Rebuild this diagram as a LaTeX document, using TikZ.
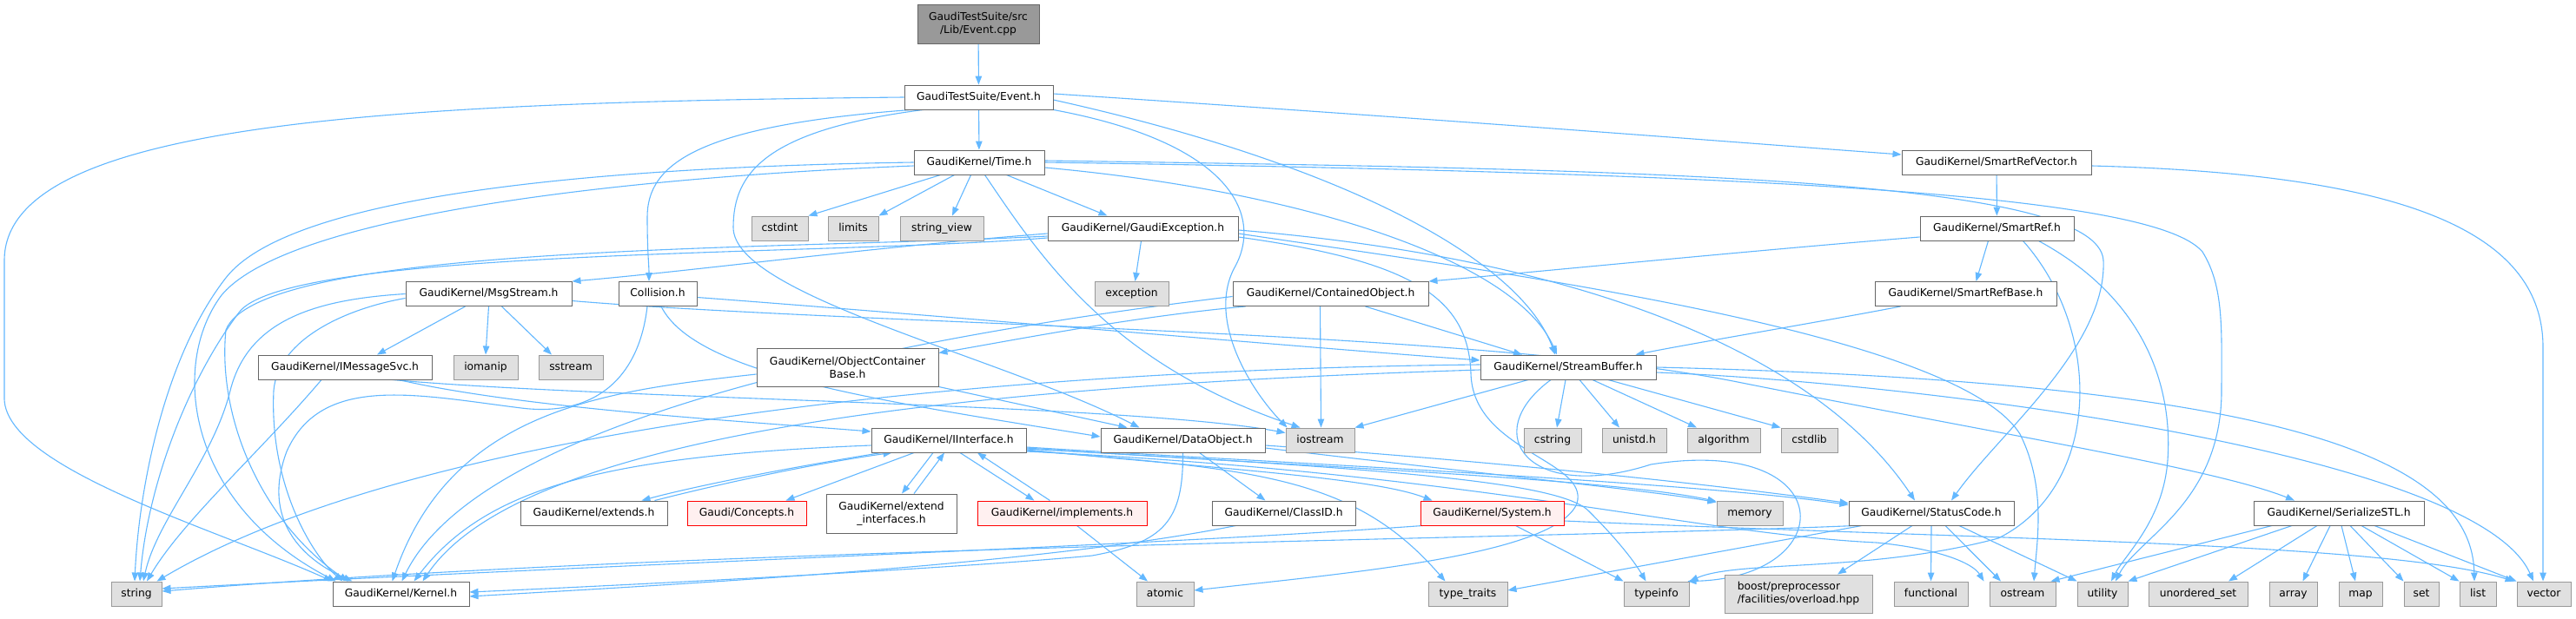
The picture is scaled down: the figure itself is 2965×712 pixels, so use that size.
\documentclass[tikz,border=0pt]{standalone}
\usepackage{fontspec}
\setmainfont{DejaVu Sans}
\usetikzlibrary{arrows.meta}
\definecolor{edgecol}{HTML}{63B8FF}
\definecolor{boxdraw}{HTML}{666666}
\definecolor{extfill}{HTML}{E0E0E0}
\definecolor{extdraw}{HTML}{999999}
\definecolor{rootfill}{HTML}{999999}
\definecolor{redfill}{HTML}{FFF0F0}
\pgfdeclarelayer{bg}
\pgfsetlayers{bg,main}
\begin{document}
\begin{tikzpicture}[x=1pt,y=-1pt,
  font=\fontsize{12.3}{15}\selectfont,
  nd/.style={draw=boxdraw, fill=white, line width=0.95pt, inner sep=0pt, minimum height=28pt, text height=9.3pt, text depth=2.6pt},
  two/.style={draw=boxdraw, fill=white, line width=0.95pt, inner sep=0pt, minimum height=45pt, align=center},
  ext/.style={nd, fill=extfill, draw=extdraw},
  rednd/.style={nd, fill=redfill, draw=red},
  edge/.style={draw=edgecol, line width=1.1pt, -{Triangle[length=10pt,width=7.5pt]}}
]
\begin{pgfonlayer}{bg}
\fill[white] (0,0) rectangle (2965,712);
\end{pgfonlayer}
\useasboundingbox (0,0) rectangle (2965,712);

% ---------- nodes ----------
\node[two, fill=rootfill, minimum width=140pt] (cpp) at (1126,27.5) {GaudiTestSuite/src\\/Lib/Event.cpp};
\node[nd, minimum width=171pt] (evh) at (1126.5,112) {GaudiTestSuite/Event.h};
\node[nd, minimum width=150pt] (time) at (1127,187) {GaudiKernel/Time.h};
\node[nd, minimum width=218pt] (srv) at (2298,187) {GaudiKernel/SmartRefVector.h};
\node[ext, minimum width=65pt] (cstdint) at (897.5,263) {cstdint};
\node[ext, minimum width=58pt] (limits) at (982,263) {limits};
\node[ext, minimum width=96pt] (strview) at (1084,263) {string\_view};
\node[nd, minimum width=219pt] (gexc) at (1315.5,263) {GaudiKernel/GaudiException.h};
\node[nd, minimum width=177pt] (sref) at (2298.5,263) {GaudiKernel/SmartRef.h};
\node[nd, minimum width=191pt] (msg) at (562.5,338.5) {GaudiKernel/MsgStream.h};
\node[nd, minimum width=90pt] (coll) at (757,338.5) {Collision.h};
\node[ext, minimum width=85pt] (exc) at (1302.5,338.5) {exception};
\node[nd, minimum width=225pt] (cobj) at (1531.5,338.5) {GaudiKernel/ContainedObject.h};
\node[nd, minimum width=209pt] (srb) at (2262.5,338.5) {GaudiKernel/SmartRefBase.h};
\node[nd, minimum width=200pt] (imsg) at (397,423) {GaudiKernel/IMessageSvc.h};
\node[ext, minimum width=74pt] (iomanip) at (559,423) {iomanip};
\node[ext, minimum width=74pt] (sstream) at (657,423) {sstream};
\node[two, minimum width=209pt, minimum height=44pt] (ocb) at (975.5,423) {GaudiKernel/ObjectContainer\\Base.h};
\node[nd, minimum width=202pt] (sbuf) at (1805,423) {GaudiKernel/StreamBuffer.h};
\node[nd, minimum width=178pt] (iint) at (1092,507) {GaudiKernel/IInterface.h};
\node[nd, minimum width=189pt] (dobj) at (1361.5,507) {GaudiKernel/DataObject.h};
\node[ext, minimum width=79pt] (iostream) at (1519.5,507) {iostream};
\node[ext, minimum width=66pt] (cstring) at (1787,507) {cstring};
\node[ext, minimum width=74pt] (unistd) at (1881,507) {unistd.h};
\node[ext, minimum width=84pt] (algorithm) at (1984,507) {algorithm};
\node[ext, minimum width=65pt] (cstdlib) at (2082.5,507) {cstdlib};
\node[nd, minimum width=169pt] (extends) at (683.5,591) {GaudiKernel/extends.h};
\node[rednd, minimum width=137pt] (concepts) at (859.5,591) {Gaudi/Concepts.h};
\node[two, minimum width=150pt] (extint) at (1026,591.5) {GaudiKernel/extend\\\_interfaces.h};
\node[rednd, minimum width=195pt] (impl) at (1222.5,591) {GaudiKernel/implements.h};
\node[nd, minimum width=165pt] (classid) at (1477.5,591) {GaudiKernel/ClassID.h};
\node[rednd, minimum width=165pt] (system) at (1717.5,591) {GaudiKernel/System.h};
\node[ext, minimum width=76pt] (memory) at (2014,591) {memory};
\node[nd, minimum width=190pt] (statuscode) at (2223,591) {GaudiKernel/StatusCode.h};
\node[nd, minimum width=196pt] (sstl) at (2692,591) {GaudiKernel/SerializeSTL.h};
\node[ext, minimum width=58pt] (string) at (157,684) {string};
\node[nd, minimum width=157pt] (kernel) at (461.5,684) {GaudiKernel/Kernel.h};
\node[ext, minimum width=66pt] (atomic) at (1341,684) {atomic};
\node[ext, minimum width=91pt] (ttraits) at (1689.5,684) {type\_traits};
\node[ext, minimum width=75pt] (typeinfo) at (1906.5,684) {typeinfo};
\node[two, fill=extfill, draw=extdraw, minimum width=170pt, minimum height=44pt, align=left] (boost) at (2070,684) {boost/preprocessor\\/facilities/overload.hpp};
\node[ext, minimum width=85pt] (functional) at (2222.5,684) {functional};
\node[ext, minimum width=76pt] (ostream) at (2328,684) {ostream};
\node[ext, minimum width=58pt] (utility) at (2420,684) {utility};
\node[ext, minimum width=114pt] (uset) at (2530,684) {unordered\_set};
\node[ext, minimum width=55pt] (array) at (2639.5,684) {array};
\node[ext, minimum width=50pt] (map) at (2717,684) {map};
\node[ext, minimum width=40pt] (set) at (2787,684) {set};
\node[ext, minimum width=42pt] (list) at (2852,684) {list};
\node[ext, minimum width=62pt] (vector) at (2928,684) {vector};

% ---------- edges ----------
\begin{pgfonlayer}{bg}
\draw[edge] (cpp) -- (evh);
% Event.h
\draw[edge] (evh) -- (time);
\draw[edge] ([yshift=4pt]evh.east) .. controls (1700,140) and (2050,168) .. ([yshift=9pt]srv.west);
\draw[edge] (evh.west) .. controls (450,118) and (5,140) .. (5,300) -- (5,460) .. controls (8,540) and (250,610) .. (kernel.north west);
\draw[edge] ([xshift=8pt]evh.south west) .. controls (800,145) and (745,190) .. (745,250) .. controls (745,290) and (747,305) .. ([xshift=-10pt]coll.north);
\draw[edge] ([xshift=22pt]evh.south west) .. controls (880,150) and (844,200) .. (844,262) .. controls (844,340) and (1150,410) .. ([xshift=-50pt]dobj.north);
\draw[edge] (evh.south east) .. controls (1420,165) and (1455,250) .. (1420,310) .. controls (1390,370) and (1440,450) .. ([xshift=2pt]iostream.north west);
\draw[edge] ([yshift=-3pt]evh.east) .. controls (1550,190) and (1750,300) .. ([xshift=-15pt]sbuf.north);
% Time.h
\draw[edge] (time.west) .. controls (650,193) and (330,230) .. (260,320) .. controls (190,410) and (160,560) .. ([xshift=-2pt]string.north);
\draw[edge] ([yshift=-4pt]time.west) .. controls (700,205) and (330,250) .. (255,340) .. controls (195,420) and (215,580) .. ([xshift=4pt]kernel.north west);
\draw[edge] ([xshift=31pt]time.south west) -- (cstdint.north east);
\draw[edge] ([xshift=47pt]time.south west) -- (limits.north east);
\draw[edge] ([xshift=66pt]time.south west) -- ([xshift=12pt]strview.north);
\draw[edge] ([xshift=107pt]time.south west) -- ([xshift=-41pt]gexc.north);
\draw[edge] ([xshift=82pt]time.south west) .. controls (1200,300) and (1280,420) .. ([xshift=17pt]iostream.north west);
\draw[edge] ([yshift=-6pt]time.east) .. controls (1500,220) and (1745,300) .. ([xshift=-13pt]sbuf.north);
\draw[edge] ([yshift=2pt]time.east) .. controls (1900,195) and (2415,205) .. (2421,300) .. controls (2425,400) and (2300,500) .. ([xshift=23pt]statuscode.north);
\draw[edge] (time.east) .. controls (2050,200) and (2480,225) .. (2535,290) .. controls (2560,330) and (2557,380) .. (2557,450) .. controls (2557,580) and (2460,620) .. ([xshift=15pt]utility.north);
% GaudiException.h
\draw[edge] ([yshift=-11pt]gexc.west) .. controls (950,295) and (330,285) .. (275,360) .. controls (215,440) and (170,560) .. ([xshift=4pt]string.north);
\draw[edge] ([yshift=-9pt]gexc.west) .. controls (900,288) and (300,280) .. (260,380) .. controls (250,480) and (300,600) .. ([xshift=18pt]kernel.north west);
\draw[edge] ([yshift=-6pt]gexc.west) .. controls (1000,285) and (800,312) .. (msg.north east);
\draw[edge] ([xshift=-2pt]gexc.south) -- ([xshift=4pt]exc.north);
\draw[edge] ([yshift=-2pt]gexc.east) .. controls (1850,300) and (2100,420) .. ([xshift=-19pt]statuscode.north);
\draw[edge] ([yshift=-6pt]gexc.east) .. controls (1700,310) and (2250,380) .. (2325,500) .. controls (2355,560) and (2345,620) .. ([xshift=13pt]ostream.north);
\draw[edge] ([yshift=-10pt]gexc.east) .. controls (1620,300) and (1690,340) .. (1693,430) .. controls (1695,520) and (1830,530) .. (1815,580) .. controls (1790,640) and (1550,660) .. ([yshift=4pt]atomic.east);
% MsgStream.h
\draw[edge] ([xshift=-27pt]msg.south) -- ([xshift=37pt]imsg.north);
\draw[edge] (msg.south) -- (iomanip.north);
\draw[edge] ([xshift=15pt]msg.south) -- ([xshift=-22pt]sstream.north);
\draw[edge] (msg.west) .. controls (360,345) and (285,370) .. (265,450) .. controls (245,530) and (180,600) .. ([xshift=8pt]string.north);
\draw[edge] ([yshift=-5pt]msg.west) .. controls (400,355) and (320,390) .. (315,450) .. controls (310,560) and (360,640) .. ([xshift=12pt]kernel.north west);
\draw[edge] ([yshift=-8pt]msg.east) .. controls (1000,375) and (1700,380) .. (2000,440) .. controls (2300,500) and (2550,540) .. ([xshift=-51pt]sstl.north);
% Collision.h
\draw[edge] ([yshift=-4pt]coll.east) .. controls (1100,365) and (1500,400) .. ([yshift=8pt]sbuf.west);
\draw[edge] ([xshift=-12pt]coll.south) .. controls (735,440) and (680,480) .. (600,470) .. controls (480,455) and (370,430) .. (330,520) .. controls (300,600) and (350,645) .. ([xshift=23pt]kernel.north west);
\draw[edge] ([xshift=4pt]coll.south) .. controls (800,430) and (1000,460) .. ([yshift=4pt]dobj.west);
% IMessageSvc.h
\draw[edge] ([xshift=-27pt]imsg.south) .. controls (300,520) and (210,600) .. ([xshift=12pt]string.north);
\draw[edge] ([xshift=62pt]imsg.south) .. controls (600,470) and (850,485) .. ([yshift=10pt]iint.west);
\draw[edge] ([xshift=55pt]imsg.south) .. controls (700,460) and (1300,465) .. ([yshift=-6pt]iostream.north west);
% ObjectContainerBase.h
\draw[edge] (ocb.south east) -- ([xshift=-64pt]dobj.north);
\draw[edge] ([yshift=-8pt]ocb.west) .. controls (700,450) and (520,470) .. ([xshift=-10pt]kernel.north);
% ContainedObject.h
\draw[edge] ([xshift=15pt]cobj.south west) .. controls (1300,365) and (1150,395) .. ([yshift=-6pt]ocb.north east);
\draw[edge] ([xshift=-12pt]cobj.south) -- ([xshift=1pt]iostream.north);
\draw[edge] ([xshift=40pt]cobj.south) -- ([xshift=-53pt]sbuf.north);
\draw[edge] ([yshift=-3pt]cobj.west) .. controls (1100,380) and (560,470) .. ([xshift=1pt]kernel.north);
% SmartRefBase.h
\draw[edge] ([xshift=-75pt]srb.south) .. controls (2100,370) and (1950,395) .. ([xshift=-24pt]sbuf.north east);
% SmartRef.h
\draw[edge] ([yshift=-10pt]sref.west) .. controls (2000,290) and (1750,315) .. (cobj.north east);
\draw[edge] ([xshift=-10pt]sref.south) -- ([xshift=12pt]srb.north);
\draw[edge] ([xshift=30pt]sref.south) .. controls (2420,380) and (2420,560) .. (2300,620) .. controls (2150,660) and (2000,645) .. (typeinfo.north east);
\draw[edge] ([xshift=48pt]sref.south) .. controls (2480,350) and (2500,460) .. (2495,530) .. controls (2490,600) and (2445,640) .. ([xshift=10pt]utility.north);
% SmartRefVector.h
\draw[edge] (srv) -- (sref);
\draw[edge] ([yshift=-4pt]srv.east) .. controls (2750,200) and (2927,260) .. (2927,400) -- ([xshift=-1pt]vector.north);
% StreamBuffer.h
\draw[edge] ([xshift=-3pt]sbuf.south) -- ([xshift=5pt]cstring.north);
\draw[edge] ([xshift=13pt]sbuf.south) -- ([xshift=-17pt]unistd.north);
\draw[edge] ([xshift=28pt]sbuf.south) -- ([xshift=-31pt]algorithm.north);
\draw[edge] ([xshift=46pt]sbuf.south) -- (cstdlib.north west);
\draw[edge] ([xshift=-46pt]sbuf.south) -- (iostream.north east);
\draw[edge] ([yshift=3pt]sbuf.west) .. controls (1200,425) and (500,480) .. ([xshift=-6pt]string.north east);
\draw[edge] ([yshift=-3pt]sbuf.west) .. controls (1100,445) and (600,500) .. ([xshift=25pt]kernel.north);
\draw[edge] ([xshift=-20pt]sbuf.south) .. controls (1700,500) and (1760,580) .. (1900,535) .. controls (2120,500) and (2120,665) .. ([xshift=-2pt]typeinfo.north east);
\draw[edge] (sbuf.east) .. controls (2600,440) and (2845,520) .. ([xshift=-4pt]list.north);
\draw[edge] ([yshift=-6pt]sbuf.east) .. controls (2200,440) and (2850,520) .. ([xshift=-12pt]vector.north);
% DataObject.h
\draw[edge] ([xshift=19pt]dobj.south) -- ([xshift=-21pt]classid.north);
\draw[edge] (dobj.south) .. controls (1362,600) and (1340,625) .. (1257,640) .. controls (1100,655) and (700,675) .. ([yshift=2pt]kernel.east);
\draw[edge] ([yshift=-6pt]dobj.east) .. controls (1700,530) and (1950,555) .. ([yshift=-3pt]statuscode.north west);
\draw[edge] ([yshift=-9pt]dobj.east) .. controls (1700,545) and (1900,565) .. ([yshift=-2pt]memory.north west);
% IInterface.h
\draw[edge] ([xshift=12pt]iint.south west) .. controls (900,540) and (800,560) .. ([xshift=-30pt]extends.north east);
\draw[edge] ([xshift=-15pt]extends.north east) .. controls (850,552) and (950,532) .. ([xshift=24pt]iint.south west);
\draw[edge] ([xshift=-40pt]iint.south) -- ([xshift=-24pt]concepts.north east);
\draw[edge] ([xshift=-18pt]iint.south) -- ([xshift=12pt]extint.north);
\draw[edge] ([xshift=26pt]extint.north) -- ([xshift=-5pt]iint.south);
\draw[edge] ([xshift=13pt]iint.south) -- ([xshift=-32pt]impl.north);
\draw[edge] ([xshift=-14pt]impl.north) -- ([xshift=33pt]iint.south);
\draw[edge] ([yshift=-6pt]iint.west) .. controls (700,525) and (560,560) .. ([xshift=15pt]kernel.north);
\draw[edge] ([yshift=-8pt]iint.east) .. controls (1450,532) and (1950,555) .. ([yshift=-5pt]statuscode.north west);
\draw[edge] ([yshift=-9pt]iint.east) .. controls (1450,535) and (1850,550) .. ([yshift=-1pt]memory.north west);
\draw[edge] ([yshift=-11pt]iint.east) .. controls (1400,540) and (1580,550) .. ([xshift=14pt]system.north west);
\draw[edge] ([yshift=-12pt]iint.east) .. controls (1450,540) and (1560,550) .. ([xshift=-26pt]ttraits.north);
\draw[edge] ([yshift=-10pt]iint.east) .. controls (1600,540) and (1800,555) .. (1830,590) .. controls (1860,620) and (1880,645) .. ([xshift=-12pt]typeinfo.north);
\draw[edge] ([yshift=-13pt]iint.east) .. controls (1700,545) and (1950,615) .. (2160,625) .. controls (2230,632) and (2270,648) .. ([xshift=-6pt]ostream.north west);
% implements.h
\draw[edge] ([xshift=17pt]impl.south) -- ([xshift=-20pt]atomic.north);
% ClassID.h
\draw[edge] ([xshift=-55pt]classid.south) .. controls (1200,650) and (800,672) .. ([yshift=-3pt]kernel.east);
% System.h
\draw[edge] ([xshift=27pt]system.south) -- (typeinfo.north west);
\draw[edge] ([yshift=-9pt]system.east) .. controls (2300,622) and (2750,625) .. ([xshift=-3pt]vector.north west);
\draw[edge] ([xshift=3pt]system.south west) .. controls (1300,630) and (700,650) .. ([yshift=6pt]string.east);
% StatusCode.h
\draw[edge] ([xshift=-22pt]statuscode.south) -- ([xshift=45pt]boost.north);
\draw[edge] (statuscode.south) -- (functional.north);
\draw[edge] ([xshift=16pt]statuscode.south) -- ([xshift=-25pt]ostream.north);
\draw[edge] ([xshift=32pt]statuscode.south) -- (utility.north west);
\draw[edge] ([xshift=-80pt]statuscode.south) -- ([yshift=4pt]ttraits.east);
\draw[edge] ([xshift=-88pt]statuscode.south) .. controls (1800,620) and (800,630) .. ([yshift=3pt]string.east);
% SerializeSTL.h
\draw[edge] ([xshift=-77pt]sstl.south) -- ([xshift=-6pt]ostream.north east);
\draw[edge] ([xshift=-54pt]sstl.south) -- (utility.north east);
\draw[edge] ([xshift=-25pt]sstl.south) -- ([xshift=35pt]uset.north);
\draw[edge] ([xshift=-10pt]sstl.south) -- ([xshift=11pt]array.north);
\draw[edge] ([xshift=3pt]sstl.south) -- ([xshift=-6pt]map.north);
\draw[edge] ([xshift=13pt]sstl.south) -- (set.north west);
\draw[edge] ([xshift=26pt]sstl.south) -- (list.north west);
\draw[edge] ([xshift=41pt]sstl.south) -- (vector.north west);
\end{pgfonlayer}
\end{tikzpicture}
\end{document}
